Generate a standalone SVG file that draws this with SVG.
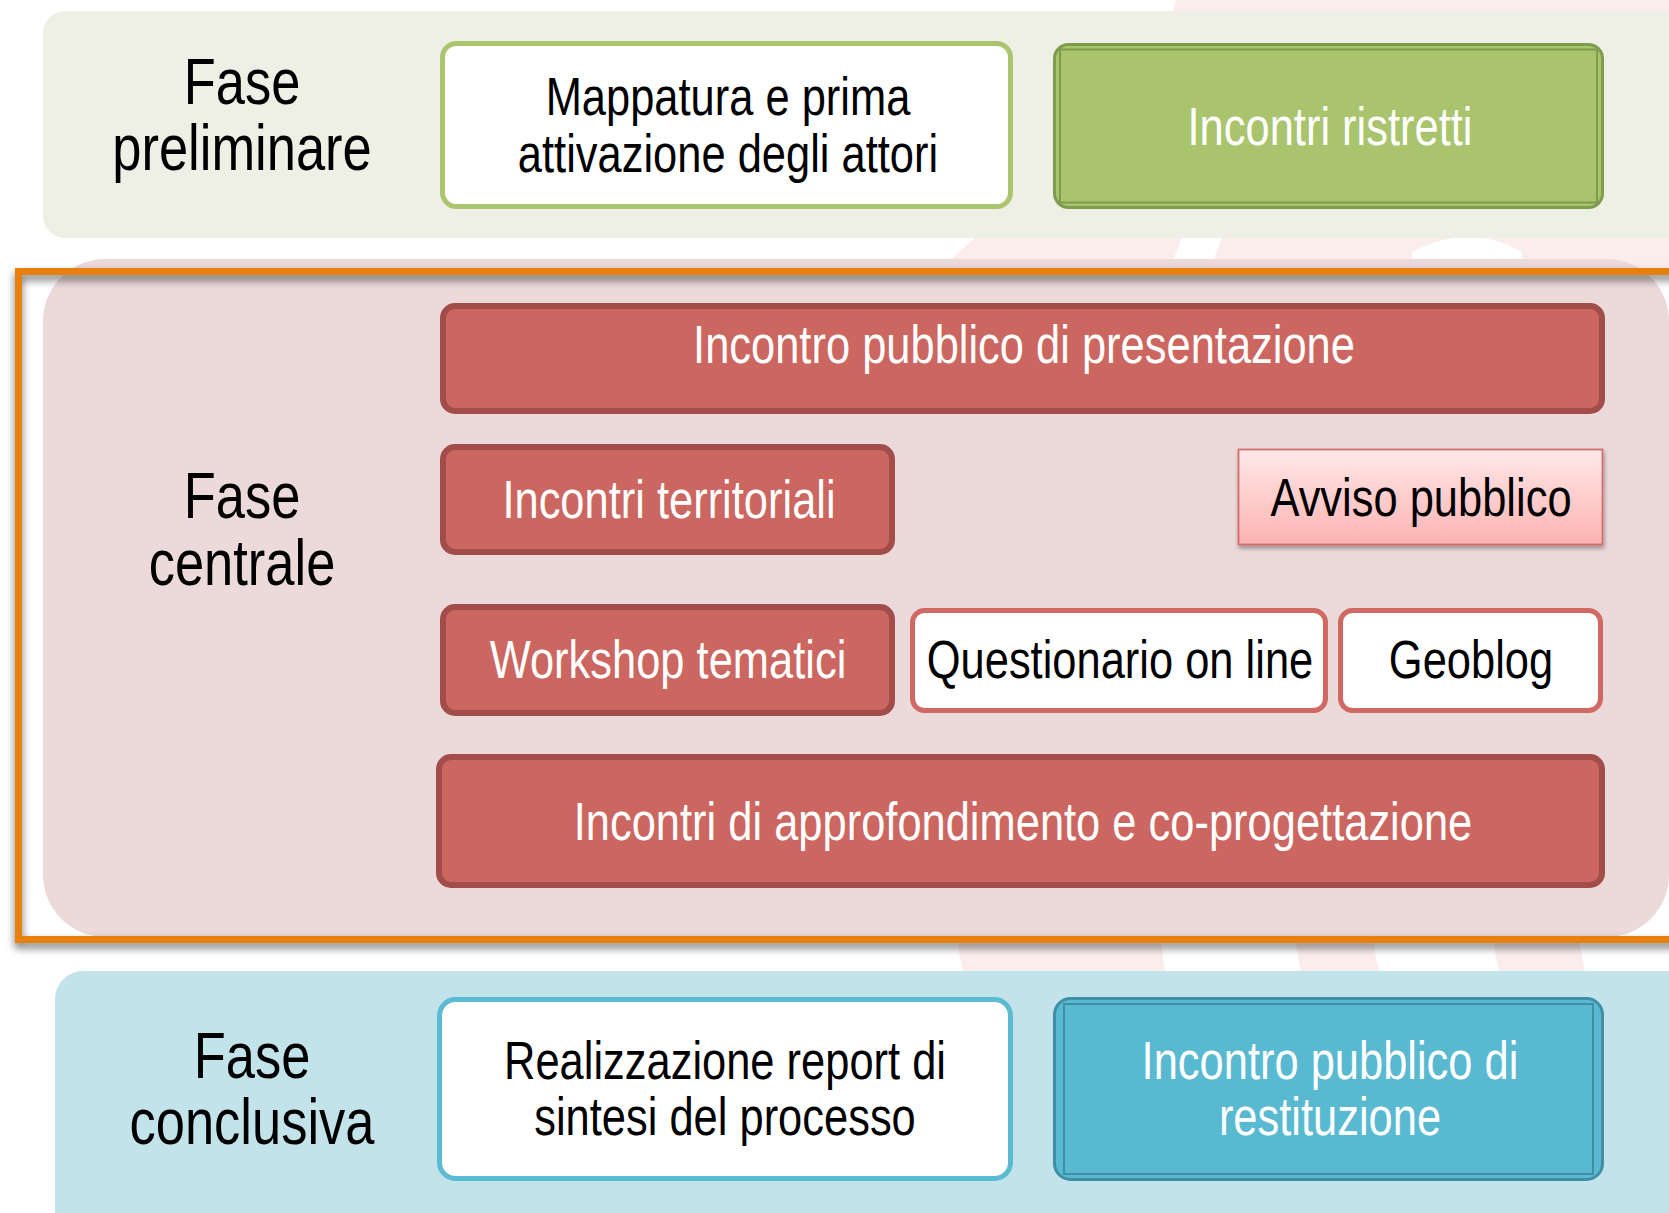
<svg xmlns="http://www.w3.org/2000/svg" width="1669" height="1213" viewBox="0 0 1669 1213">
<style>
.t{font-family:"Liberation Sans",Arial,sans-serif;text-anchor:middle}
.w{fill:#ffffff;font-size:53px}
.k{fill:#000000;font-size:53px}
.ph{fill:#000000;font-size:64px}
.red{fill:#CC6660;stroke:#A24D49;stroke-width:6}
.redw{fill:#ffffff;stroke:#D06963;stroke-width:5}
.wm{fill:#FCEDED}
.dbl{fill:none;stroke-width:2}
</style>
<defs>
<linearGradient id="gAvv" x1="0" y1="0" x2="0" y2="1">
<stop offset="0" stop-color="#FFE8E8"/>
<stop offset="1" stop-color="#FBB3B1"/>
</linearGradient>
<filter id="shFrame" x="-5%" y="-5%" width="110%" height="115%">
<feDropShadow dx="0" dy="5" stdDeviation="4" flood-color="#000" flood-opacity="0.55"/>
</filter>
<filter id="shBox" x="-5%" y="-10%" width="110%" height="130%">
<feDropShadow dx="1" dy="3" stdDeviation="2" flood-color="#000" flood-opacity="0.35"/>
</filter>
</defs>
<rect width="1669" height="1213" fill="#ffffff"/>
<g id="watermark">
<polygon class="wm" points="1176,0 1669,0 1669,14 1172,14"/>
<polygon class="wm" points="985,228 1186,228 1170,268 942,268"/>
<polygon class="wm" points="1226,228 1669,228 1669,268 1210,268"/>
<path d="M1412,268 L1412,252 Q1470,222 1522,252 L1522,268 Z" fill="#ffffff"/>
<polygon class="wm" points="956,936 1160,936 1166,978 964,978"/>
<polygon class="wm" points="1294,936 1372,936 1380,978 1302,978"/>
<polygon class="wm" points="1492,936 1578,936 1586,978 1500,978"/>
</g>
<g id="band-preliminare">
<rect x="43" y="11" width="1650" height="227" rx="22" fill="#EFF0E5"/>
</g>
<g id="band-centrale">
<rect x="43" y="259" width="1626" height="678" rx="62" fill="#ECD9DA"/>
</g>
<g id="band-conclusiva">
<rect x="55" y="971" width="1650" height="270" rx="28" fill="#C3E3EB"/>
</g>
<g id="frame-centrale">
<rect x="18.5" y="271.5" width="1700" height="668" fill="none" stroke="#E8800A" stroke-width="7" filter="url(#shFrame)"/>
</g>
<g id="fase-preliminare">
<text class="t ph" transform="translate(242,104) scale(0.82,1)">Fase</text>
<text class="t ph" transform="translate(242,170) scale(0.82,1)">preliminare</text>
</g>
<g id="mappatura">
<rect x="442.5" y="43.5" width="568" height="163" rx="14" fill="#ffffff" stroke="#AAC56E" stroke-width="5"/>
<text class="t k" transform="translate(728,115) scale(0.82,1)">Mappatura e prima</text>
<text class="t k" transform="translate(728,172) scale(0.82,1)">attivazione degli attori</text>
</g>
<g id="incontri-ristretti">
<rect x="1054.5" y="44.5" width="548" height="163" rx="14" fill="#AAC46E" stroke="#7F9B4E" stroke-width="3"/>
<rect x="1060" y="49.5" width="537" height="153" class="dbl" stroke="#7F9B4E"/>
<text class="t w" transform="translate(1330,145) scale(0.82,1)">Incontri ristretti</text>
</g>
<g id="fase-centrale">
<text class="t ph" transform="translate(242,518) scale(0.82,1)">Fase</text>
<text class="t ph" transform="translate(242,585) scale(0.82,1)">centrale</text>
</g>
<g id="presentazione">
<rect class="red" x="443" y="306" width="1159" height="105" rx="12"/>
<text class="t w" transform="translate(1024,363) scale(0.82,1)">Incontro pubblico di presentazione</text>
</g>
<g id="territoriali">
<rect class="red" x="443" y="447" width="449" height="105" rx="12"/>
<text class="t w" transform="translate(669,518) scale(0.82,1)">Incontri territoriali</text>
</g>
<g id="avviso">
<rect x="1238.5" y="449.5" width="364" height="95" fill="url(#gAvv)" stroke="#D26E69" stroke-width="1.8" filter="url(#shBox)"/>
<text class="t k" transform="translate(1421,516) scale(0.82,1)">Avviso pubblico</text>
</g>
<g id="workshop">
<rect class="red" x="443" y="607" width="449" height="106" rx="12"/>
<text class="t w" transform="translate(668,678) scale(0.82,1)">Workshop tematici</text>
</g>
<g id="questionario">
<rect class="redw" x="912.5" y="610.5" width="413" height="100" rx="12"/>
<text class="t k" transform="translate(1120,678) scale(0.82,1)">Questionario on line</text>
</g>
<g id="geoblog">
<rect class="redw" x="1340.5" y="610.5" width="260" height="100" rx="12"/>
<text class="t k" transform="translate(1471,678) scale(0.82,1)">Geoblog</text>
</g>
<g id="approfondimento">
<rect class="red" x="439" y="757" width="1163" height="128" rx="12"/>
<text class="t w" transform="translate(1023,840) scale(0.82,1)">Incontri di approfondimento e co-progettazione</text>
</g>
<g id="fase-conclusiva">
<text class="t ph" transform="translate(252,1078) scale(0.82,1)">Fase</text>
<text class="t ph" transform="translate(252,1144) scale(0.82,1)">conclusiva</text>
</g>
<g id="realizzazione">
<rect x="439.5" y="999.5" width="571" height="179" rx="16" fill="#ffffff" stroke="#5ABBD3" stroke-width="5"/>
<text class="t k" transform="translate(725,1079) scale(0.82,1)">Realizzazione report di</text>
<text class="t k" transform="translate(725,1135) scale(0.82,1)">sintesi del processo</text>
</g>
<g id="restituzione">
<rect x="1054.5" y="998.5" width="548" height="181" rx="16" fill="#58B9D1" stroke="#3F8FA6" stroke-width="3"/>
<rect x="1064" y="1004" width="529" height="170" class="dbl" stroke="#3F8FA6"/>
<text class="t w" transform="translate(1330,1079) scale(0.82,1)">Incontro pubblico di</text>
<text class="t w" transform="translate(1330,1135) scale(0.82,1)">restituzione</text>
</g>
<g id="connectors"/>
</svg>
